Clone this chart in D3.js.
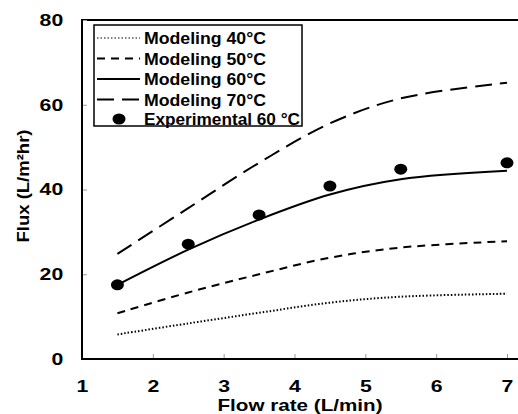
<!DOCTYPE html>
<html>
<head>
<meta charset="utf-8">
<script src="https://cdn.jsdelivr.net/npm/d3@7"></script>
<style>
  body { margin: 0; background: #fff; }
  text { font-family: "Liberation Sans", Arial, sans-serif; font-weight: bold; fill: #000; }
</style>
</head>
<body>
<script>
// data
var flowRates = [1.5, 2.5, 3.5, 4.5, 5.5, 7];
var model40 = [5.8, 8.4, 10.9, 13.3, 14.7, 15.4];
var model50 = [10.8, 15.7, 20.0, 23.9, 26.3, 27.8];
var model60 = [17.5, 25.8, 32.9, 38.8, 42.4, 44.4];
var model70 = [24.8, 35.6, 46.3, 55.6, 61.5, 65.2];
var exp60 = [17.5, 27.1, 34.0, 40.8, 44.8, 46.3];
var xTicks = [1, 2, 3, 4, 5, 6, 7];
var yTicks = [0, 20, 40, 60, 80];
var seriesNames = ["Modeling 40°C", "Modeling 50°C", "Modeling 60°C", "Modeling 70°C", "Experimental 60 °C"];

var W = 518, H = 414;
var x = d3.scaleLinear().domain([1, 7]).range([82, 507]);
var y = d3.scaleLinear().domain([0, 80]).range([359, 20]);

var svg = d3.select("body").append("svg")
    .attr("width", W)
    .attr("height", H);

// frame (top edge + left edge, right runs off the picture)
svg.append("line")
    .attr("x1", x(1)).attr("x2", W + 2)
    .attr("y1", y(80)).attr("y2", y(80))
    .attr("stroke", "#000").attr("stroke-width", 2);

var xAxis = svg.append("g")
    .attr("transform", "translate(0," + y(0) + ")")
    .call(d3.axisBottom(x).tickValues(xTicks).tickFormat(d3.format("d"))
        .tickSizeInner(-5).tickSizeOuter(0).tickPadding(21));
var yAxis = svg.append("g")
    .attr("transform", "translate(" + x(1) + ",0)")
    .call(d3.axisLeft(y).tickValues(yTicks).tickFormat(d3.format("d"))
        .tickSizeInner(-5).tickSizeOuter(0).tickPadding(15));

[xAxis, yAxis].forEach(function(ax) {
    ax.select(".domain").remove();
    ax.selectAll(".tick line").attr("stroke", "#999").attr("stroke-width", 1);
    ax.selectAll(".tick text")
        .style("font-size", "17px")
        .attr("transform", "scale(1.25,1)");
});
svg.append("line")
    .attr("x1", x(1)).attr("x2", W + 2)
    .attr("y1", y(0)).attr("y2", y(0))
    .attr("stroke", "#000").attr("stroke-width", 2);
svg.append("line")
    .attr("x1", x(1)).attr("x2", x(1))
    .attr("y1", y(80) - 1).attr("y2", y(0) + 1)
    .attr("stroke", "#000").attr("stroke-width", 2);

// axis titles
svg.append("text")
    .attr("x", 300).attr("y", 411)
    .attr("text-anchor", "middle")
    .attr("textLength", 165).attr("lengthAdjust", "spacingAndGlyphs")
    .style("font-size", "17px")
    .text("Flow rate (L/min)");
svg.append("text")
    .attr("transform", "translate(29,186) rotate(-90)")
    .attr("text-anchor", "middle")
    .attr("textLength", 113).attr("lengthAdjust", "spacingAndGlyphs")
    .style("font-size", "17px")
    .text("Flux (L/m²hr)");

// model curves
var styles = [
    {data: model40, dash: "1.5,2"},
    {data: model50, dash: "8,6"},
    {data: model60, dash: null},
    {data: model70, dash: "17,8"}
];
var line = d3.line()
    .x(function(d) { return x(d[0]); })
    .y(function(d) { return y(d[1]); })
    .curve(d3.curveCatmullRom);

styles.forEach(function(s) {
    svg.append("path")
        .datum(d3.zip(flowRates, s.data))
        .attr("d", line)
        .attr("fill", "none")
        .attr("stroke", "#000")
        .attr("stroke-width", 2)
        .attr("stroke-dasharray", s.dash);
});

svg.selectAll("ellipse.pt")
    .data(d3.zip(flowRates, exp60))
    .enter().append("ellipse")
    .attr("class", "pt")
    .attr("cx", function(d) { return x(d[0]); })
    .attr("cy", function(d) { return y(d[1]); })
    .attr("rx", 6.5).attr("ry", 5.5)
    .attr("fill", "#000");

// legend
var lg = svg.append("g");
lg.append("rect")
    .attr("x", 94).attr("y", 25)
    .attr("width", 208).attr("height", 101)
    .attr("fill", "#fff").attr("stroke", "#000").attr("stroke-width", 1.5);
var rowY = [38, 58.5, 79, 99.5, 119];
var textW = [122, 122, 122, 122, 156];
seriesNames.forEach(function(name, i) {
    var ry = rowY[i];
    if (i < 4) {
        lg.append("line")
            .attr("x1", 97).attr("x2", 140)
            .attr("y1", ry).attr("y2", ry)
            .attr("stroke", "#000")
            .attr("stroke-width", i === 0 ? 1.2 : 2)
            .attr("stroke-dasharray", styles[i].dash);
    } else {
        lg.append("ellipse")
            .attr("cx", 119).attr("cy", ry)
            .attr("rx", 6.5).attr("ry", 5.5)
            .attr("fill", "#000");
    }
    lg.append("text")
        .attr("x", 144).attr("y", ry + 6)
        .attr("textLength", textW[i]).attr("lengthAdjust", "spacingAndGlyphs")
        .style("font-size", "16px")
        .text(name);
});
</script>
</body>
</html>
